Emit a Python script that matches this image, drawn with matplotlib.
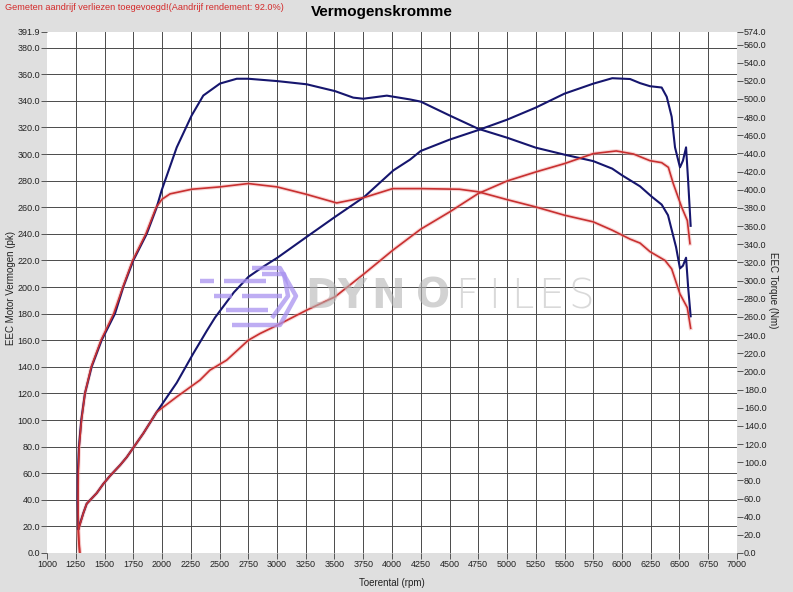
import matplotlib
matplotlib.use("Agg")
import matplotlib.pyplot as plt
import numpy as np
from matplotlib.ticker import FormatStrFormatter
from matplotlib.lines import Line2D

plt.rcParams["font.family"] = ["Liberation Sans", "DejaVu Sans"]

# torque curves (Nm, right axis)
rpm_torque_tuned = [1272, 1266, 1268, 1278, 1298, 1330, 1388, 1475, 1591, 1663, 1750,
                    1867, 1954, 1997, 2128, 2258, 2359, 2504, 2650, 2750, 3003,
                    3258, 3504, 3663, 3750, 3955, 4157, 4250, 4500, 4750, 5000,
                    5250, 5500, 5750, 5915, 6000, 6157, 6258, 6345, 6400, 6470, 6504,
                    6530, 6557, 6575, 6597]
nm_torque_tuned = [26.4, 58.6, 87.9, 117.2, 146.5, 175.8, 205.1, 234.4, 263.6, 292.9, 322.2,
                   351.5, 380.8, 399.4, 446.7, 481.9, 503.8, 517.0, 522.3, 522.3, 519.7,
                   516.2, 508.7, 501.5, 500.3, 503.7, 499.5, 497.1, 481.9, 467.2, 457.4,
                   446.4, 438.7, 431.6, 423.3, 416.0, 403.8, 392.5, 383.7, 372.0, 336.9, 313.4,
                   316.4, 325.2, 292.9, 260.7]

rpm_torque_stock = [1285, 1275, 1272, 1270, 1272, 1280, 1300, 1330, 1385, 1470,
                    1580, 1660, 1745, 1860, 1950, 2000, 2070, 2258, 2504, 2750,
                    3000, 3250, 3519, 3758, 4006, 4250, 4587, 4750, 5000, 5250,
                    5500, 5750, 5915, 6070, 6157, 6243, 6374, 6432, 6504, 6568, 6597]
nm_torque_stock = [0, 14.6, 29.3, 58.6, 87.9, 117.2, 146.5, 175.8, 205.1, 234.4,
                   263.6, 292.9, 322.2, 351.5, 380.8, 389.6, 395.5, 400.6, 403.2, 406.9,
                   403.2, 395.2, 385.5, 391.5, 401.3, 401.3, 400.6, 397.8, 389.2, 381.1,
                   372.0, 364.7, 355.5, 345.7, 341.3, 331.9, 322.2, 312.9, 285.3, 270.2, 247.5]

# power curves (pk, left axis)
rpm_power_tuned = [1272, 1316, 1345, 1432, 1490, 1548, 1635, 1693, 1838, 1954, 2128,
                   2272, 2389, 2461, 2504, 2625, 2751, 2875, 3003, 3258, 3504, 3758, 4012,
                   4157, 4250, 4500, 4750, 5000, 5250, 5500, 5750, 5915, 6070, 6157,
                   6243, 6345, 6389, 6432, 6461, 6504, 6530, 6557, 6575, 6597]
pk_power_tuned = [18, 30, 37, 45, 52, 58, 66, 72, 90, 106, 128,
                  150, 167, 177, 182, 196, 207.6, 215, 222, 237.7, 252.7, 267.7, 287.7,
                  295.8, 302.3, 310.8, 318, 325.8, 334.9, 345.4, 352.9, 357, 356.4, 353.3,
                  351, 350, 343, 328, 305, 290, 295, 305, 280, 246]

rpm_power_stock = [1285, 1272, 1316, 1345, 1432, 1490, 1548, 1635, 1693, 1838, 1954,
                   2128, 2330, 2417, 2562, 2751, 2852, 3003, 3258, 3504, 3758, 4006,
                   4250, 4500, 4750, 5000, 5250, 5500, 5750, 5950, 6100, 6243, 6345,
                   6403, 6446, 6519, 6568, 6591]
pk_power_stock = [0, 17, 30, 37, 45, 52, 58, 66, 72, 90, 106,
                  117.4, 130, 137.5, 145, 160, 165, 171.3, 182.6, 192.6, 210, 227.6,
                  243.5, 256.4, 270.3, 279.7, 286.5, 292.8, 300.3, 302.3, 300, 295, 293.5,
                  290, 277.7, 260, 250, 232.6]

x_ticks = list(range(1000, 7001, 250))
left_ticks = list(range(0, 381, 20)) + [391.9]
right_ticks = list(range(0, 561, 20)) + [574.0]

BLUE = "#16166e"
RED = "#c83030"
HALO = "#f2a8a8"
PK_TO_NM = 574 / 391.9

W, H = 793, 592
fig = plt.figure(figsize=(W / 100, H / 100), dpi=100, facecolor="#dfdfdf")
ax = fig.add_axes([47 / W, 39 / H, 690 / W, 521.2 / H])
ax.set_facecolor("white")
ax.set_xlim(1000, 7000)
ax.set_ylim(0, 391.9)
ax.set_xticks(x_ticks)
ax.set_yticks(left_ticks)
ax.yaxis.set_major_formatter(FormatStrFormatter("%.1f"))
ax.grid(True, color="#4a4a4a", lw=0.7)
for gl in (ax.get_xgridlines()[0], ax.get_xgridlines()[-1],
           ax.get_ygridlines()[0], ax.get_ygridlines()[-1]):
    gl.set_visible(False)
for s in ax.spines.values():
    s.set_visible(False)
ax.tick_params(direction="out", length=4, width=0.7, color="#555555",
               labelsize=6.5, labelcolor="#222222", pad=1)
ax.set_xlabel("Toerental (rpm)", fontsize=7, color="#222222")
ax.xaxis.set_label_coords(0.5, -0.048)
ax.set_ylabel("EEC Motor Vermogen (pk)", fontsize=7, color="#222222")
ax.yaxis.set_label_coords(-0.045, 0.508)

ax2 = ax.twinx()
ax2.set_ylim(0, 574)
ax2.set_yticks(right_ticks)
ax2.yaxis.set_major_formatter(FormatStrFormatter("%.1f"))
for s in ax2.spines.values():
    s.set_visible(False)
ax2.tick_params(direction="out", length=4, width=0.7, color="#555555",
                labelsize=6.5, labelcolor="#222222", pad=1)
ax2.set_ylabel("EEC Torque (Nm)", fontsize=7, color="#222222", rotation=270)
ax2.yaxis.set_label_coords(1.06, 0.505)

# watermark
wm_y = 1 - 297 / H
for ch, cx in zip("DYNO", [322, 352, 388, 433]):
    fig.text(cx / W, wm_y, ch, fontsize=29, fontweight="bold", color="#b4b4b4",
             alpha=0.6, ha="center", va="center", family="DejaVu Sans")
for ch, cx in zip("FILES", [467, 494, 522, 551, 581]):
    fig.text(cx / W, wm_y, ch, fontsize=29, fontweight="light", color="#c0c0c0",
             alpha=0.6, ha="center", va="center", family="DejaVu Sans")
purple = "#a892f0"
logo = [
    ([200, 214], [281, 281]), ([224, 266], [281, 281]),
    ([214, 232], [296, 296]), ([242, 282], [296, 296]),
    ([226, 268], [310, 310]),
    ([252, 280, 296, 280, 232], [268, 268, 296, 325, 325]),
    ([262, 284, 288, 272], [274, 274, 296, 318]),
]
for xs, ys in logo:
    fig.add_artist(Line2D([x / W for x in xs], [1 - y / H for y in ys],
                          color=purple, lw=3.2, alpha=0.75, solid_capstyle="butt"))

# curves
ax2.plot(rpm_torque_stock, nm_torque_stock, color=HALO, lw=2.8, alpha=0.45)
ax2.plot(rpm_power_stock, np.array(pk_power_stock) * PK_TO_NM, color=HALO, lw=2.8, alpha=0.45)
ax2.plot(rpm_torque_tuned, nm_torque_tuned, color=BLUE, lw=1.5)
ax2.plot(rpm_power_tuned, np.array(pk_power_tuned) * PK_TO_NM, color=BLUE, lw=1.5)
ax2.plot(rpm_torque_stock, nm_torque_stock, color=RED, lw=1.2)
ax2.plot(rpm_power_stock, np.array(pk_power_stock) * PK_TO_NM, color=RED, lw=1.2)

fig.text(382 / W, 1 - 12 / H, "Vermogenskromme", fontsize=11, fontweight="bold",
         ha="center", va="center", color="black")
fig.text(5 / W, 1 - 8 / H, "Gemeten aandrijf verliezen toegevoegd!(Aandrijf rendement: 92.0%)",
         fontsize=6.6, color="#d42a2a", ha="left", va="center")

fig.savefig("out.png", dpi=100, facecolor=fig.get_facecolor())
